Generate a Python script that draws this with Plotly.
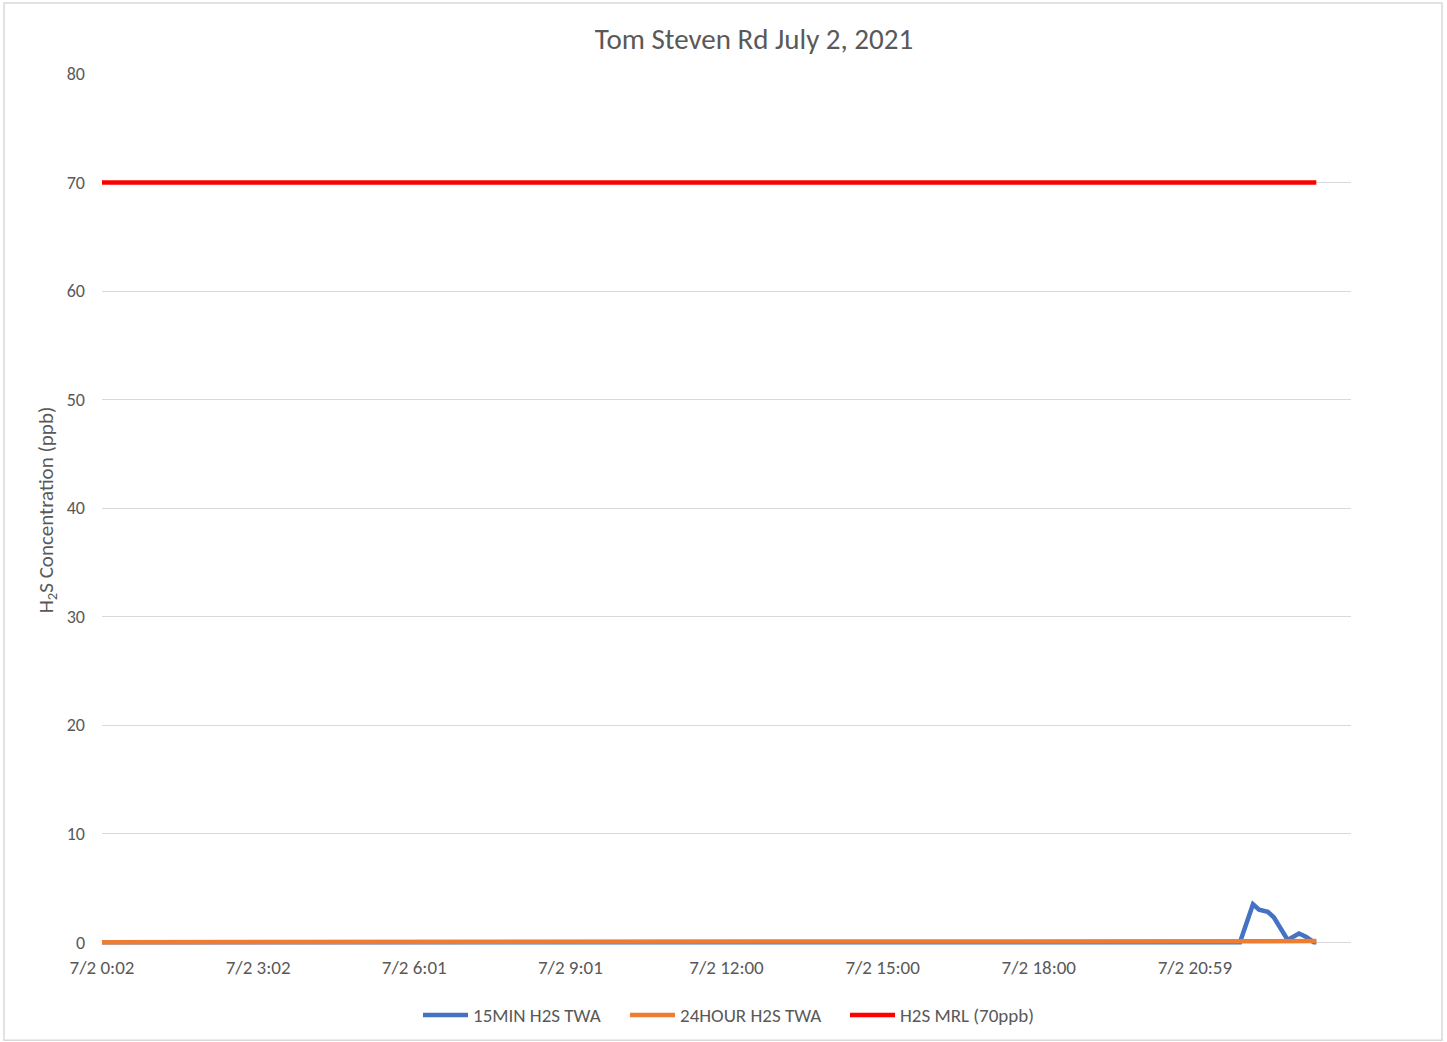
import plotly.graph_objects as go

DAY = "2021-07-02 "

# 15-minute TWA (breakpoints of the series; flat zero before the late spike)
t15 = ["00:02", "21:54", "22:09", "22:16", "22:26", "22:33", "22:49", "23:02", "23:10", "23:19", "23:22"]
v15 = [0, 0, 3.5, 3.0, 2.8, 2.3, 0.2, 0.8, 0.5, 0.0, 0.0]

# 24-hour TWA
t24 = ["00:02", "21:54", "22:30", "23:22"]
v24 = [0, 0, 0.05, 0.1]

# MRL
tmrl = ["00:02", "23:22"]
vmrl = [70, 70]

tick_times = ["2021-07-02 00:02", "2021-07-02 03:02", "2021-07-02 06:02", "2021-07-02 09:02",
              "2021-07-02 12:02", "2021-07-02 15:02", "2021-07-02 18:02", "2021-07-02 21:02"]
tick_labels = ["7/2 0:02", "7/2 3:02", "7/2 6:01", "7/2 9:01", "7/2 12:00", "7/2 15:00", "7/2 18:00", "7/2 20:59"]

FONT = "Calibri, Carlito, Lato, sans-serif"
GREY = "#595959"

H = 1047
L, R = 102, 1351
T = 74
Y0 = 942                   # pixel of y = 0
UNIT = (Y0 - T) / 80
YMIN = -0.35
B = Y0 - YMIN * UNIT       # plot bottom (below zero so lines at 0 are not clipped)
PW, PH = R - L, B - T

def py(px):                # target pixel -> paper y
    return (B - px) / PH

fig = go.Figure()
fig.add_trace(go.Scatter(x=[DAY + t for t in t15], y=v15, mode="lines", name="15MIN H2S TWA",
                         line=dict(color="#4472C4", width=4.5), legend="legend"))
fig.add_trace(go.Scatter(x=[DAY + t for t in t24], y=v24, mode="lines", name="24HOUR H2S TWA",
                         line=dict(color="#ED7D31", width=4.5), legend="legend2"))
fig.add_trace(go.Scatter(x=[DAY + t for t in tmrl], y=vmrl, mode="lines", name="H2S MRL (70ppb)",
                         line=dict(color="#FF0000", width=4.5), legend="legend3"))

def leg(px):
    return dict(orientation="h", x=(px - L) / PW, xanchor="left", y=py(1015), yanchor="middle",
                font=dict(size=19, color=GREY), itemwidth=45, bgcolor="rgba(0,0,0,0)")

fig.update_layout(
    width=1447, height=H,
    margin=dict(l=L, r=1447 - R, t=T, b=H - B, autoexpand=False),
    paper_bgcolor="white", plot_bgcolor="white",
    font=dict(family=FONT, color=GREY, size=18),
    title=dict(text="Tom Steven Rd July 2, 2021", x=754 / 1447, xref="container", xanchor="center",
               y=1 - 39 / H, yref="container", yanchor="middle",
               font=dict(size=29, color=GREY, family=FONT)),
    xaxis=dict(type="date", range=["2021-07-02 00:02", "2021-07-03 00:02"],
               tickvals=tick_times, ticktext=tick_labels, showgrid=False,
               showline=False, zeroline=False, ticks="", ticklabelstandoff=8,
               tickfont=dict(size=19, color=GREY)),
    yaxis=dict(range=[YMIN, 80], tickvals=[0, 10, 20, 30, 40, 50, 60, 70, 80],
               showgrid=True, gridcolor="#d9d9d9", gridwidth=1,
               zeroline=False, showline=False, ticks="", ticklabelstandoff=16,
               tickfont=dict(size=18, color=GREY),
               title=dict(text="H<sub>2</sub>S Concentration (ppb)", standoff=7,
                          font=dict(size=21, color=GREY))),
    legend=leg(418),
    legend2=leg(625),
    legend3=leg(845),
    showlegend=True,
)

fig.add_shape(type="rect", xref="paper", yref="paper",
              x0=(4 - L) / PW, x1=(1442 - L) / PW,
              y0=py(1040), y1=py(3),
              line=dict(color="#d9d9d9", width=1.5), fillcolor="rgba(0,0,0,0)", layer="below")

fig.write_html("out.html", config={"displayModeBar": False},
               post_script="document.body.style.margin='0';document.body.style.overflow='hidden';")
